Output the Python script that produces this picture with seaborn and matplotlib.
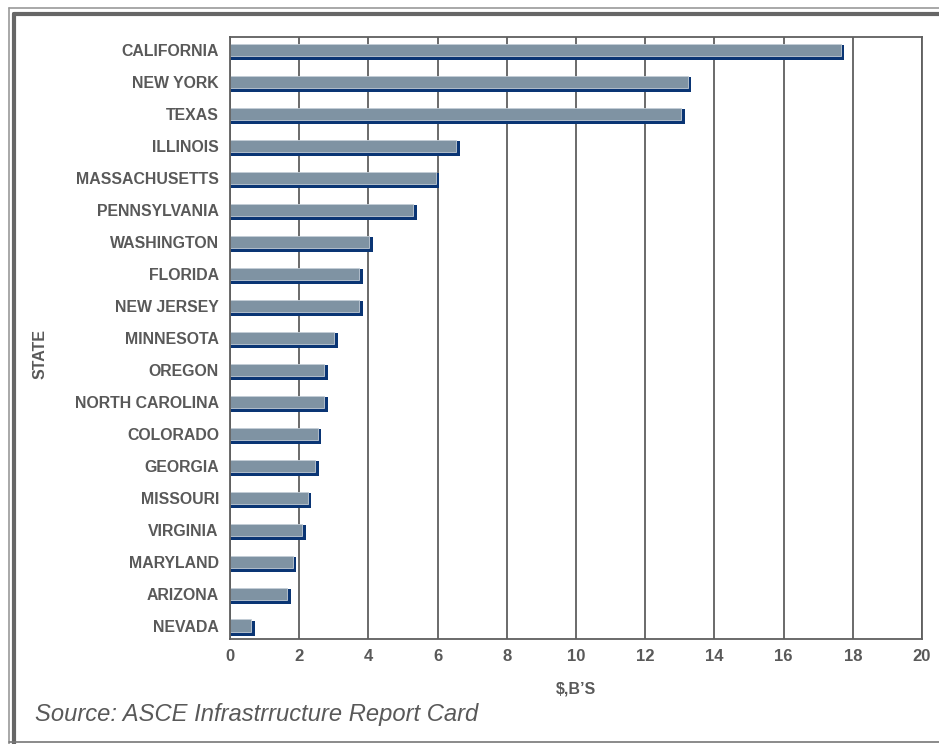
import matplotlib
matplotlib.use("Agg")
import matplotlib.pyplot as plt
import matplotlib.transforms as mtransforms
from matplotlib.lines import Line2D
import seaborn as sns
import pandas as pd

# data ($ billions)
states = ["CALIFORNIA", "NEW YORK", "TEXAS", "ILLINOIS", "MASSACHUSETTS",
          "PENNSYLVANIA", "WASHINGTON", "FLORIDA", "NEW JERSEY", "MINNESOTA",
          "OREGON", "NORTH CAROLINA", "COLORADO", "GEORGIA", "MISSOURI",
          "VIRGINIA", "MARYLAND", "ARIZONA", "NEVADA"]
values = [17.65, 13.23, 13.04, 6.54, 5.95, 5.30, 4.02, 3.73, 3.73, 3.01,
          2.72, 2.72, 2.54, 2.46, 2.24, 2.09, 1.82, 1.65, 0.62]
x_ticks = [0, 2, 4, 6, 8, 10, 12, 14, 16, 18, 20]

df = pd.DataFrame({"state": states, "value": values})

sns.set_theme(style="white")
plt.rcParams["font.family"] = ["Liberation Sans", "DejaVu Sans"]

TEXT = "#595959"
BAR = "#7f93a3"
SHADOW = "#0a3574"
GRID = "#5f5f5f"

fig = plt.figure(figsize=(9.39, 7.44), dpi=100)
ax = fig.add_axes([230 / 939, 1 - 639 / 744, 692 / 939, 602 / 744])

# shadow bars: thick edge + small shift gives the 3D drop shadow
sns.barplot(data=df, x="value", y="state", orient="h", color=SHADOW,
            width=0.38, saturation=1, edgecolor=SHADOW, linewidth=2.16, ax=ax)
shift = mtransforms.ScaledTranslation(1.5 / 100, -2.6 / 100, fig.dpi_scale_trans)
for p in ax.patches:
    p.set_transform(ax.transData + shift)

sns.barplot(data=df, x="value", y="state", orient="h", color=BAR,
            width=0.38, saturation=1, edgecolor="#c3cdd6", linewidth=0.6, ax=ax)

ax.set_xlim(0, 20)
ax.set_ylim(18.42, -0.4)
ax.set_xticks(x_ticks)
ax.set_xticklabels([str(t) for t in x_ticks])
ax.xaxis.grid(True, color=GRID, linewidth=1.3)
ax.set_axisbelow(True)
for s in ax.spines.values():
    s.set_color(GRID)
    s.set_linewidth(1.3)

ax.tick_params(axis="y", length=0, pad=8, labelsize=11.4, labelcolor=TEXT)
ax.tick_params(axis="x", length=0, pad=7, labelsize=12, labelcolor=TEXT)
for lab in ax.get_xticklabels() + ax.get_yticklabels():
    lab.set_fontweight("bold")

ax.set_xlabel("$,B’S", fontsize=11.5, fontweight="bold", color=TEXT, labelpad=13)
ax.set_ylabel("")
fig.text(40 / 939, 1 - 354 / 744, "STATE", rotation=90, fontsize=11.5,
         fontweight="bold", color=TEXT, ha="center", va="center")

fig.text(35 / 939, 1 - 715 / 744, "Source: ASCE Infrastrructure Report Card",
         fontsize=17.1, style="italic", color=TEXT, ha="left", va="center")

# double page frame
fig.add_artist(Line2D([9 / 939, 1], [1 - 8 / 744] * 2, color="#9a9a9a", lw=1.2))
fig.add_artist(Line2D([13.5 / 939, 1], [1 - 13.5 / 744] * 2, color="#666666", lw=3))
fig.add_artist(Line2D([9 / 939] * 2, [1 - 8 / 744, 0], color="#9a9a9a", lw=1.2))
fig.add_artist(Line2D([13.5 / 939] * 2, [1 - 13.5 / 744, 0], color="#666666", lw=3))
fig.add_artist(Line2D([9 / 939, 1], [1 - 742 / 744] * 2, color="#777777", lw=1.2))

fig.savefig("out.png", dpi=100, facecolor="white")
